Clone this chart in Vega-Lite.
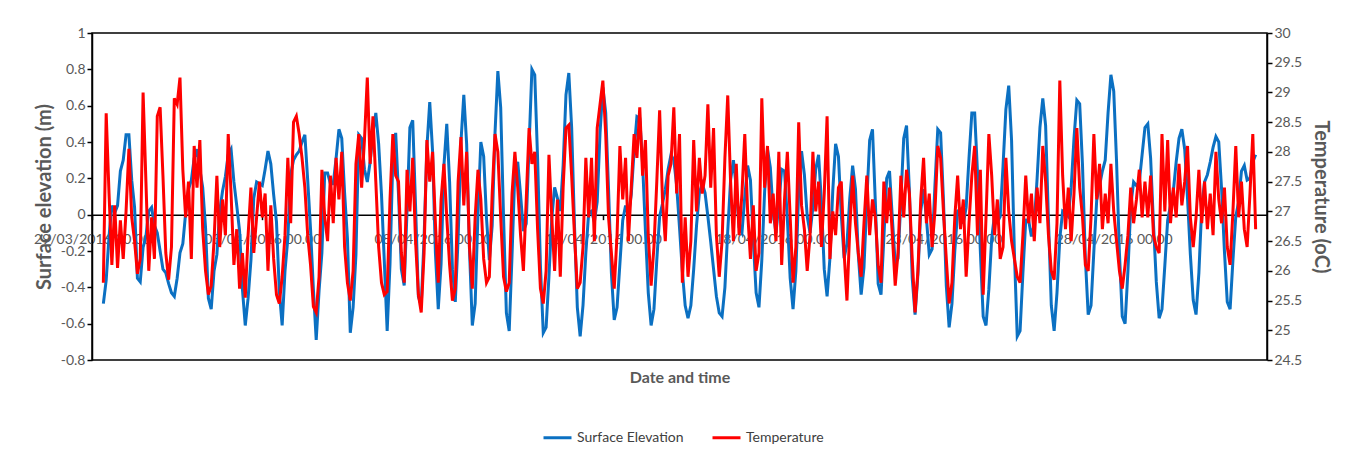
{
"$schema":"https://vega.github.io/schema/vega-lite/v6.json",
"width":1175,"height":327,
"autosize":{"type":"none"},
"padding":{"left":92,"top":33,"right":91,"bottom":110},
"background":"white",
"config":{"font":"Lato","view":{"stroke":"#000000","strokeWidth":1.5},
"axis":{"grid":false,"labelFont":"Lato","labelFontSize":14,"labelColor":"#595959","titleFont":"Lato","titleFontSize":20,"titleFontWeight":"bold","titleColor":"#595959","domainColor":"#000000","domainWidth":1.5,"tickColor":"#000000","tickWidth":1.5,"tickSize":5}},
"data":{"format":{"parse":{"t":"date:'%Y-%m-%d %H'"}},"values":[
{"t":"2016-03-29 08","e":-0.49,"T":25.8},{"t":"2016-03-29 10","e":-0.36,"T":28.65},{"t":"2016-03-29 12","e":-0.12,"T":27.3},{"t":"2016-03-29 14","e":0.05,"T":26.1},{"t":"2016-03-29 16","e":0.01,"T":27.1},{"t":"2016-03-29 18","e":0.05,"T":26.05},{"t":"2016-03-29 20","e":0.24,"T":26.85},{"t":"2016-03-29 22","e":0.3,"T":26.2},
{"t":"2016-03-30 00","e":0.44,"T":27.0},{"t":"2016-03-30 02","e":0.44,"T":28.05},{"t":"2016-03-30 04","e":0.19,"T":26.9},{"t":"2016-03-30 06","e":0.04,"T":26.5},{"t":"2016-03-30 08","e":-0.35,"T":25.95},{"t":"2016-03-30 10","e":-0.37,"T":26.2},{"t":"2016-03-30 12","e":-0.18,"T":29.0},{"t":"2016-03-30 14","e":-0.12,"T":27.5},{"t":"2016-03-30 16","e":0.02,"T":26.0},{"t":"2016-03-30 18","e":0.04,"T":26.9},{"t":"2016-03-30 20","e":-0.06,"T":26.2},{"t":"2016-03-30 22","e":-0.1,"T":28.6},
{"t":"2016-03-31 00","e":-0.2,"T":28.75},{"t":"2016-03-31 02","e":-0.3,"T":27.6},{"t":"2016-03-31 04","e":-0.32,"T":26.3},{"t":"2016-03-31 06","e":-0.38,"T":25.85},{"t":"2016-03-31 08","e":-0.43,"T":26.4},{"t":"2016-03-31 10","e":-0.45,"T":28.9},{"t":"2016-03-31 12","e":-0.35,"T":28.8},{"t":"2016-03-31 14","e":-0.21,"T":29.25},{"t":"2016-03-31 16","e":-0.16,"T":27.7},{"t":"2016-03-31 18","e":0.01,"T":26.9},{"t":"2016-03-31 20","e":0.14,"T":27.5},{"t":"2016-03-31 22","e":0.19,"T":26.2},
{"t":"2016-04-01 00","e":0.31,"T":28.1},{"t":"2016-04-01 02","e":0.36,"T":27.4},{"t":"2016-04-01 04","e":0.25,"T":28.2},{"t":"2016-04-01 06","e":0.15,"T":26.7},{"t":"2016-04-01 08","e":-0.07,"T":26.0},{"t":"2016-04-01 10","e":-0.46,"T":25.6},{"t":"2016-04-01 12","e":-0.52,"T":25.75},{"t":"2016-04-01 14","e":-0.31,"T":26.5},{"t":"2016-04-01 16","e":-0.22,"T":27.6},{"t":"2016-04-01 18","e":0.02,"T":26.4},{"t":"2016-04-01 20","e":0.13,"T":27.2},{"t":"2016-04-01 22","e":0.21,"T":26.6},
{"t":"2016-04-02 00","e":0.33,"T":28.3},{"t":"2016-04-02 02","e":0.36,"T":27.3},{"t":"2016-04-02 04","e":0.18,"T":26.1},{"t":"2016-04-02 06","e":0.05,"T":26.7},{"t":"2016-04-02 08","e":-0.09,"T":25.7},{"t":"2016-04-02 10","e":-0.41,"T":26.3},{"t":"2016-04-02 12","e":-0.61,"T":25.55},{"t":"2016-04-02 14","e":-0.46,"T":26.6},{"t":"2016-04-02 16","e":-0.25,"T":27.4},{"t":"2016-04-02 18","e":0.09,"T":26.3},{"t":"2016-04-02 20","e":0.18,"T":26.9},{"t":"2016-04-02 22","e":0.17,"T":27.5},
{"t":"2016-04-03 00","e":0.16,"T":26.9},{"t":"2016-04-03 02","e":0.25,"T":27.3},{"t":"2016-04-03 04","e":0.35,"T":26.0},{"t":"2016-04-03 06","e":0.28,"T":27.1},{"t":"2016-04-03 08","e":0.11,"T":26.2},{"t":"2016-04-03 10","e":-0.04,"T":25.6},{"t":"2016-04-03 12","e":-0.42,"T":25.45},{"t":"2016-04-03 14","e":-0.61,"T":25.9},{"t":"2016-04-03 16","e":-0.31,"T":26.6},{"t":"2016-04-03 18","e":-0.13,"T":27.9},{"t":"2016-04-03 20","e":0.22,"T":26.8},{"t":"2016-04-03 22","e":0.3,"T":28.5},
{"t":"2016-04-04 00","e":0.33,"T":28.6},{"t":"2016-04-04 02","e":0.35,"T":28.3},{"t":"2016-04-04 04","e":0.4,"T":27.9},{"t":"2016-04-04 06","e":0.44,"T":27.4},{"t":"2016-04-04 08","e":0.19,"T":26.6},{"t":"2016-04-04 10","e":-0.08,"T":26.1},{"t":"2016-04-04 12","e":-0.41,"T":25.4},{"t":"2016-04-04 14","e":-0.69,"T":25.3},{"t":"2016-04-04 16","e":-0.42,"T":25.9},{"t":"2016-04-04 18","e":-0.21,"T":27.7},{"t":"2016-04-04 20","e":0.23,"T":26.9},{"t":"2016-04-04 22","e":0.23,"T":26.5},
{"t":"2016-04-05 00","e":0.17,"T":27.6},{"t":"2016-04-05 02","e":0.17,"T":26.8},{"t":"2016-04-05 04","e":0.31,"T":27.9},{"t":"2016-04-05 06","e":0.47,"T":27.2},{"t":"2016-04-05 08","e":0.42,"T":28.0},{"t":"2016-04-05 10","e":0.12,"T":26.4},{"t":"2016-04-05 12","e":-0.13,"T":25.8},{"t":"2016-04-05 14","e":-0.65,"T":25.5},{"t":"2016-04-05 16","e":-0.51,"T":26.0},{"t":"2016-04-05 18","e":-0.22,"T":27.8},{"t":"2016-04-05 20","e":0.44,"T":28.3},{"t":"2016-04-05 22","e":0.42,"T":27.4},
{"t":"2016-04-06 00","e":0.25,"T":28.2},{"t":"2016-04-06 02","e":0.18,"T":29.25},{"t":"2016-04-06 04","e":0.29,"T":27.8},{"t":"2016-04-06 06","e":0.45,"T":28.6},{"t":"2016-04-06 08","e":0.56,"T":27.5},{"t":"2016-04-06 10","e":0.39,"T":26.4},{"t":"2016-04-06 12","e":0.11,"T":25.8},{"t":"2016-04-06 14","e":-0.26,"T":25.6},{"t":"2016-04-06 16","e":-0.64,"T":25.65},{"t":"2016-04-06 18","e":-0.27,"T":27.2},{"t":"2016-04-06 20","e":0.31,"T":28.3},{"t":"2016-04-06 22","e":0.45,"T":27.6},
{"t":"2016-04-07 00","e":0.11,"T":27.5},{"t":"2016-04-07 02","e":-0.3,"T":26.3},{"t":"2016-04-07 04","e":-0.39,"T":25.8},{"t":"2016-04-07 06","e":0.02,"T":27.7},{"t":"2016-04-07 08","e":0.48,"T":27.0},{"t":"2016-04-07 10","e":0.52,"T":27.9},{"t":"2016-04-07 12","e":0.05,"T":26.5},{"t":"2016-04-07 14","e":-0.45,"T":25.6},{"t":"2016-04-07 16","e":-0.5,"T":25.3},{"t":"2016-04-07 18","e":-0.13,"T":26.3},{"t":"2016-04-07 20","e":0.37,"T":28.2},{"t":"2016-04-07 22","e":0.62,"T":27.5},
{"t":"2016-04-08 00","e":0.35,"T":28.0},{"t":"2016-04-08 02","e":-0.21,"T":26.8},{"t":"2016-04-08 04","e":-0.52,"T":25.8},{"t":"2016-04-08 06","e":-0.27,"T":27.2},{"t":"2016-04-08 08","e":0.27,"T":27.8},{"t":"2016-04-08 10","e":0.5,"T":26.9},{"t":"2016-04-08 12","e":0.18,"T":26.1},{"t":"2016-04-08 14","e":-0.3,"T":25.5},{"t":"2016-04-08 16","e":-0.48,"T":25.7},{"t":"2016-04-08 18","e":-0.13,"T":27.5},{"t":"2016-04-08 20","e":0.4,"T":28.25},{"t":"2016-04-08 22","e":0.66,"T":27.1},
{"t":"2016-04-09 00","e":0.39,"T":28.0},{"t":"2016-04-09 02","e":-0.19,"T":26.4},{"t":"2016-04-09 04","e":-0.61,"T":25.7},{"t":"2016-04-09 06","e":-0.49,"T":26.9},{"t":"2016-04-09 08","e":0.01,"T":27.7},{"t":"2016-04-09 10","e":0.4,"T":27.2},{"t":"2016-04-09 12","e":0.32,"T":26.2},{"t":"2016-04-09 14","e":-0.02,"T":25.8},{"t":"2016-04-09 16","e":-0.25,"T":25.9},{"t":"2016-04-09 18","e":-0.06,"T":27.3},{"t":"2016-04-09 20","e":0.45,"T":28.3},{"t":"2016-04-09 22","e":0.79,"T":28.0},
{"t":"2016-04-10 00","e":0.59,"T":26.9},{"t":"2016-04-10 02","e":-0.01,"T":25.9},{"t":"2016-04-10 04","e":-0.54,"T":25.65},{"t":"2016-04-10 06","e":-0.64,"T":25.8},{"t":"2016-04-10 08","e":-0.22,"T":27.3},{"t":"2016-04-10 10","e":0.24,"T":28.0},{"t":"2016-04-10 12","e":0.29,"T":27.4},{"t":"2016-04-10 14","e":0.11,"T":26.6},{"t":"2016-04-10 16","e":-0.09,"T":26.0},{"t":"2016-04-10 18","e":-0.05,"T":27.2},{"t":"2016-04-10 20","e":0.38,"T":28.4},{"t":"2016-04-10 22","e":0.8,"T":27.8},
{"t":"2016-04-11 00","e":0.77,"T":28.0},{"t":"2016-04-11 02","e":0.31,"T":26.7},{"t":"2016-04-11 04","e":-0.28,"T":25.7},{"t":"2016-04-11 06","e":-0.65,"T":25.45},{"t":"2016-04-11 08","e":-0.62,"T":26.0},{"t":"2016-04-11 10","e":-0.34,"T":27.95},{"t":"2016-04-11 12","e":-0.02,"T":26.9},{"t":"2016-04-11 14","e":0.15,"T":26.0},{"t":"2016-04-11 16","e":0.09,"T":27.2},{"t":"2016-04-11 18","e":0.02,"T":25.9},{"t":"2016-04-11 20","e":0.27,"T":27.4},{"t":"2016-04-11 22","e":0.66,"T":28.4},
{"t":"2016-04-12 00","e":0.78,"T":28.45},{"t":"2016-04-12 02","e":0.48,"T":27.6},{"t":"2016-04-12 04","e":-0.06,"T":26.6},{"t":"2016-04-12 06","e":-0.51,"T":25.7},{"t":"2016-04-12 08","e":-0.67,"T":25.8},{"t":"2016-04-12 10","e":-0.5,"T":26.4},{"t":"2016-04-12 12","e":-0.21,"T":27.9},{"t":"2016-04-12 14","e":0.01,"T":26.9},{"t":"2016-04-12 16","e":0.02,"T":27.9},{"t":"2016-04-12 18","e":-0.04,"T":26.5},{"t":"2016-04-12 20","e":0.07,"T":28.4},{"t":"2016-04-12 22","e":0.45,"T":28.8},
{"t":"2016-04-13 00","e":0.7,"T":29.2},{"t":"2016-04-13 02","e":0.56,"T":28.3},{"t":"2016-04-13 04","e":0.14,"T":26.9},{"t":"2016-04-13 06","e":-0.32,"T":26.3},{"t":"2016-04-13 08","e":-0.58,"T":25.7},{"t":"2016-04-13 10","e":-0.51,"T":26.6},{"t":"2016-04-13 12","e":-0.27,"T":28.1},{"t":"2016-04-13 14","e":-0.03,"T":27.2},{"t":"2016-04-13 16","e":0.05,"T":27.9},{"t":"2016-04-13 18","e":0.0,"T":26.5},{"t":"2016-04-13 20","e":0.11,"T":27.4},{"t":"2016-04-13 22","e":0.35,"T":28.3},
{"t":"2016-04-14 00","e":0.54,"T":27.9},{"t":"2016-04-14 02","e":0.53,"T":28.75},{"t":"2016-04-14 04","e":0.28,"T":27.6},{"t":"2016-04-14 06","e":-0.09,"T":28.2},{"t":"2016-04-14 08","e":-0.43,"T":26.6},{"t":"2016-04-14 10","e":-0.61,"T":25.75},{"t":"2016-04-14 12","e":-0.52,"T":26.4},{"t":"2016-04-14 14","e":-0.25,"T":27.5},{"t":"2016-04-14 16","e":-0.01,"T":28.7},{"t":"2016-04-14 18","e":0.06,"T":27.2},{"t":"2016-04-14 20","e":0.14,"T":26.5},{"t":"2016-04-14 22","e":0.25,"T":27.6},
{"t":"2016-04-15 00","e":0.33,"T":27.8},{"t":"2016-04-15 02","e":0.3,"T":28.75},{"t":"2016-04-15 04","e":0.16,"T":27.3},{"t":"2016-04-15 06","e":-0.07,"T":28.3},{"t":"2016-04-15 08","e":-0.31,"T":25.8},{"t":"2016-04-15 10","e":-0.5,"T":26.9},{"t":"2016-04-15 12","e":-0.57,"T":25.9},{"t":"2016-04-15 14","e":-0.5,"T":26.5},{"t":"2016-04-15 16","e":-0.3,"T":28.2},{"t":"2016-04-15 18","e":-0.06,"T":27.0},{"t":"2016-04-15 20","e":0.12,"T":27.9},{"t":"2016-04-15 22","e":0.17,"T":27.3},
{"t":"2016-04-16 00","e":0.12,"T":27.6},{"t":"2016-04-16 02","e":-0.01,"T":28.8},{"t":"2016-04-16 04","e":-0.15,"T":27.4},{"t":"2016-04-16 06","e":-0.3,"T":28.4},{"t":"2016-04-16 08","e":-0.45,"T":26.6},{"t":"2016-04-16 10","e":-0.54,"T":25.9},{"t":"2016-04-16 12","e":-0.56,"T":26.5},{"t":"2016-04-16 14","e":-0.4,"T":27.9},{"t":"2016-04-16 16","e":-0.09,"T":28.95},{"t":"2016-04-16 18","e":0.19,"T":27.5},{"t":"2016-04-16 20","e":0.3,"T":26.5},{"t":"2016-04-16 22","e":0.15,"T":27.8},
{"t":"2016-04-17 00","e":-0.07,"T":26.6},{"t":"2016-04-17 02","e":-0.1,"T":27.3},{"t":"2016-04-17 04","e":0.1,"T":28.3},{"t":"2016-04-17 06","e":0.27,"T":27.0},{"t":"2016-04-17 08","e":0.19,"T":26.2},{"t":"2016-04-17 10","e":-0.14,"T":27.1},{"t":"2016-04-17 12","e":-0.43,"T":26.0},{"t":"2016-04-17 14","e":-0.51,"T":26.3},{"t":"2016-04-17 16","e":-0.25,"T":28.9},{"t":"2016-04-17 18","e":0.13,"T":27.4},{"t":"2016-04-17 20","e":0.36,"T":28.1},{"t":"2016-04-17 22","e":0.26,"T":26.8},
{"t":"2016-04-18 00","e":0.01,"T":27.3},{"t":"2016-04-18 02","e":-0.1,"T":26.5},{"t":"2016-04-18 04","e":0.06,"T":28.0},{"t":"2016-04-18 06","e":0.25,"T":26.1},{"t":"2016-04-18 08","e":0.24,"T":27.2},{"t":"2016-04-18 10","e":-0.02,"T":28.0},{"t":"2016-04-18 12","e":-0.35,"T":26.9},{"t":"2016-04-18 14","e":-0.52,"T":25.8},{"t":"2016-04-18 16","e":-0.31,"T":26.4},{"t":"2016-04-18 18","e":0.13,"T":28.5},{"t":"2016-04-18 20","e":0.35,"T":27.1},{"t":"2016-04-18 22","e":0.22,"T":26.7},
{"t":"2016-04-19 00","e":-0.01,"T":26.0},{"t":"2016-04-19 02","e":-0.1,"T":26.6},{"t":"2016-04-19 04","e":0.04,"T":28.0},{"t":"2016-04-19 06","e":0.25,"T":27.0},{"t":"2016-04-19 08","e":0.33,"T":27.5},{"t":"2016-04-19 10","e":0.07,"T":26.4},{"t":"2016-04-19 12","e":-0.3,"T":27.3},{"t":"2016-04-19 14","e":-0.45,"T":28.6},{"t":"2016-04-19 16","e":-0.24,"T":26.2},{"t":"2016-04-19 18","e":0.13,"T":27.0},{"t":"2016-04-19 20","e":0.39,"T":26.6},{"t":"2016-04-19 22","e":0.32,"T":27.4},
{"t":"2016-04-20 00","e":0.0,"T":27.5},{"t":"2016-04-20 02","e":-0.24,"T":26.3},{"t":"2016-04-20 04","e":-0.16,"T":25.5},{"t":"2016-04-20 06","e":0.09,"T":26.7},{"t":"2016-04-20 08","e":0.27,"T":27.6},{"t":"2016-04-20 10","e":0.14,"T":26.8},{"t":"2016-04-20 12","e":-0.22,"T":26.3},{"t":"2016-04-20 14","e":-0.44,"T":25.9},{"t":"2016-04-20 16","e":-0.29,"T":26.8},{"t":"2016-04-20 18","e":0.08,"T":27.6},{"t":"2016-04-20 20","e":0.41,"T":26.6},{"t":"2016-04-20 22","e":0.47,"T":27.2},
{"t":"2016-04-21 00","e":0.07,"T":26.9},{"t":"2016-04-21 02","e":-0.38,"T":26.1},{"t":"2016-04-21 04","e":-0.44,"T":25.8},{"t":"2016-04-21 06","e":-0.13,"T":27.5},{"t":"2016-04-21 08","e":0.2,"T":26.8},{"t":"2016-04-21 10","e":0.24,"T":27.4},{"t":"2016-04-21 12","e":-0.02,"T":26.6},{"t":"2016-04-21 14","e":-0.27,"T":25.75},{"t":"2016-04-21 16","e":-0.24,"T":26.3},{"t":"2016-04-21 18","e":0.08,"T":27.6},{"t":"2016-04-21 20","e":0.42,"T":26.9},{"t":"2016-04-21 22","e":0.49,"T":27.7},
{"t":"2016-04-22 00","e":0.13,"T":27.3},{"t":"2016-04-22 02","e":-0.35,"T":26.2},{"t":"2016-04-22 04","e":-0.55,"T":25.3},{"t":"2016-04-22 06","e":-0.33,"T":26.0},{"t":"2016-04-22 08","e":0.02,"T":27.2},{"t":"2016-04-22 10","e":0.14,"T":27.9},{"t":"2016-04-22 12","e":-0.02,"T":26.8},{"t":"2016-04-22 14","e":-0.22,"T":27.3},{"t":"2016-04-22 16","e":-0.19,"T":26.4},{"t":"2016-04-22 18","e":0.16,"T":27.0},{"t":"2016-04-22 20","e":0.47,"T":28.1},{"t":"2016-04-22 22","e":0.45,"T":27.9},
{"t":"2016-04-23 00","e":0.08,"T":27.0},{"t":"2016-04-23 02","e":-0.39,"T":26.2},{"t":"2016-04-23 04","e":-0.62,"T":25.45},{"t":"2016-04-23 06","e":-0.49,"T":25.8},{"t":"2016-04-23 08","e":-0.2,"T":26.9},{"t":"2016-04-23 10","e":0.02,"T":27.6},{"t":"2016-04-23 12","e":0.03,"T":26.7},{"t":"2016-04-23 14","e":-0.05,"T":27.2},{"t":"2016-04-23 16","e":0.04,"T":25.9},{"t":"2016-04-23 18","e":0.31,"T":26.8},{"t":"2016-04-23 20","e":0.56,"T":27.6},{"t":"2016-04-23 22","e":0.56,"T":28.1},
{"t":"2016-04-24 00","e":0.23,"T":26.6},{"t":"2016-04-24 02","e":-0.2,"T":27.7},{"t":"2016-04-24 04","e":-0.56,"T":25.6},{"t":"2016-04-24 06","e":-0.61,"T":26.9},{"t":"2016-04-24 08","e":-0.41,"T":28.3},{"t":"2016-04-24 10","e":-0.13,"T":27.6},{"t":"2016-04-24 12","e":0.0,"T":26.6},{"t":"2016-04-24 14","e":-0.04,"T":27.2},{"t":"2016-04-24 16","e":-0.01,"T":26.2},{"t":"2016-04-24 18","e":0.27,"T":26.4},{"t":"2016-04-24 20","e":0.58,"T":27.9},{"t":"2016-04-24 22","e":0.71,"T":27.0},
{"t":"2016-04-25 00","e":0.41,"T":26.5},{"t":"2016-04-25 02","e":-0.21,"T":26.2},{"t":"2016-04-25 04","e":-0.67,"T":25.9},{"t":"2016-04-25 06","e":-0.64,"T":25.8},{"t":"2016-04-25 08","e":-0.32,"T":26.6},{"t":"2016-04-25 10","e":-0.03,"T":27.6},{"t":"2016-04-25 12","e":-0.03,"T":26.8},{"t":"2016-04-25 14","e":-0.12,"T":27.3},{"t":"2016-04-25 16","e":-0.05,"T":26.5},{"t":"2016-04-25 18","e":0.2,"T":27.4},{"t":"2016-04-25 20","e":0.48,"T":26.8},{"t":"2016-04-25 22","e":0.64,"T":28.1},
{"t":"2016-04-26 00","e":0.49,"T":27.5},{"t":"2016-04-26 02","e":-0.03,"T":26.6},{"t":"2016-04-26 04","e":-0.5,"T":26.0},{"t":"2016-04-26 06","e":-0.64,"T":25.85},{"t":"2016-04-26 08","e":-0.43,"T":26.8},{"t":"2016-04-26 10","e":-0.13,"T":29.2},{"t":"2016-04-26 12","e":0.02,"T":27.6},{"t":"2016-04-26 14","e":0.01,"T":26.7},{"t":"2016-04-26 16","e":-0.01,"T":27.4},{"t":"2016-04-26 18","e":0.15,"T":26.5},{"t":"2016-04-26 20","e":0.42,"T":27.3},{"t":"2016-04-26 22","e":0.63,"T":28.4},
{"t":"2016-04-27 00","e":0.61,"T":27.4},{"t":"2016-04-27 02","e":0.27,"T":26.9},{"t":"2016-04-27 04","e":-0.24,"T":26.1},{"t":"2016-04-27 06","e":-0.55,"T":26.0},{"t":"2016-04-27 08","e":-0.5,"T":26.9},{"t":"2016-04-27 10","e":-0.2,"T":28.3},{"t":"2016-04-27 12","e":0.08,"T":27.2},{"t":"2016-04-27 14","e":0.16,"T":27.8},{"t":"2016-04-27 16","e":0.24,"T":26.7},{"t":"2016-04-27 18","e":0.3,"T":27.3},{"t":"2016-04-27 20","e":0.56,"T":26.8},{"t":"2016-04-27 22","e":0.77,"T":27.8},
{"t":"2016-04-28 00","e":0.68,"T":27.0},{"t":"2016-04-28 02","e":0.29,"T":26.5},{"t":"2016-04-28 04","e":-0.21,"T":26.0},{"t":"2016-04-28 06","e":-0.56,"T":25.7},{"t":"2016-04-28 08","e":-0.6,"T":26.1},{"t":"2016-04-28 10","e":-0.31,"T":26.6},{"t":"2016-04-28 12","e":0.05,"T":27.4},{"t":"2016-04-28 14","e":0.18,"T":26.8},{"t":"2016-04-28 16","e":0.16,"T":27.2},{"t":"2016-04-28 18","e":0.18,"T":27.7},{"t":"2016-04-28 20","e":0.33,"T":26.9},{"t":"2016-04-28 22","e":0.48,"T":27.5},
{"t":"2016-04-29 00","e":0.5,"T":26.9},{"t":"2016-04-29 02","e":0.31,"T":27.6},{"t":"2016-04-29 04","e":-0.05,"T":26.6},{"t":"2016-04-29 06","e":-0.37,"T":26.4},{"t":"2016-04-29 08","e":-0.57,"T":26.3},{"t":"2016-04-29 10","e":-0.52,"T":28.3},{"t":"2016-04-29 12","e":-0.28,"T":27.0},{"t":"2016-04-29 14","e":-0.03,"T":28.2},{"t":"2016-04-29 16","e":0.05,"T":26.8},{"t":"2016-04-29 18","e":0.13,"T":27.4},{"t":"2016-04-29 20","e":0.29,"T":26.9},{"t":"2016-04-29 22","e":0.42,"T":27.8},
{"t":"2016-04-30 00","e":0.47,"T":27.1},{"t":"2016-04-30 02","e":0.36,"T":27.5},{"t":"2016-04-30 04","e":0.09,"T":28.1},{"t":"2016-04-30 06","e":-0.22,"T":26.9},{"t":"2016-04-30 08","e":-0.47,"T":26.4},{"t":"2016-04-30 10","e":-0.55,"T":26.9},{"t":"2016-04-30 12","e":-0.32,"T":27.7},{"t":"2016-04-30 14","e":0.04,"T":26.8},{"t":"2016-04-30 16","e":0.18,"T":27.5},{"t":"2016-04-30 18","e":0.22,"T":26.7},{"t":"2016-04-30 20","e":0.29,"T":27.3},{"t":"2016-04-30 22","e":0.37,"T":26.6},
{"t":"2016-05-01 00","e":0.43,"T":28.0},{"t":"2016-05-01 02","e":0.4,"T":27.2},{"t":"2016-05-01 04","e":0.14,"T":26.8},{"t":"2016-05-01 06","e":-0.2,"T":27.4},{"t":"2016-05-01 08","e":-0.48,"T":26.4},{"t":"2016-05-01 10","e":-0.52,"T":26.1},{"t":"2016-05-01 12","e":-0.25,"T":27.0},{"t":"2016-05-01 14","e":-0.01,"T":28.1},{"t":"2016-05-01 16","e":0.07,"T":26.9},{"t":"2016-05-01 18","e":0.24,"T":27.5},{"t":"2016-05-01 20","e":0.27,"T":26.7},{"t":"2016-05-01 22","e":0.19,"T":26.4},
{"t":"2016-05-02 00","e":0.2,"T":27.3},{"t":"2016-05-02 02","e":0.29,"T":28.3},{"t":"2016-05-02 04","e":0.33,"T":26.7}
]},
"encoding":{"x":{"field":"t","type":"temporal",
"scale":{"domain":[{"year":2016,"month":"mar","date":29},{"year":2016,"month":"may","date":2,"hours":12}]},
"axis":{"values":[{"year":2016,"month":"mar","date":29},{"year":2016,"month":"apr","date":3},{"year":2016,"month":"apr","date":8},{"year":2016,"month":"apr","date":13},{"year":2016,"month":"apr","date":18},{"year":2016,"month":"apr","date":23},{"year":2016,"month":"apr","date":28}],
"format":"%d/%m/%Y %H.%M","labelFlush":false,"labelOverlap":false,"labelBound":false,"offset":-145.33,"labelPadding":13,
"title":"Date and time","titleFontSize":16,"titleY":163,"titleBaseline":"middle"}}},
"layer":[
{"mark":{"type":"line","strokeWidth":3},
"encoding":{"y":{"field":"e","type":"quantitative","scale":{"domain":[-0.8,1],"nice":false,"zero":false},
"axis":{"title":"Surface elevation (m)","values":[-0.8,-0.6,-0.4,-0.2,0,0.2,0.4,0.6,0.8,1],"labelExpr":"datum.value < 0 ? '-' + format(-datum.value, '.1~f') : format(datum.value, '.1~f')","titlePadding":6}},
"color":{"datum":"Surface Elevation","type":"nominal","scale":{"domain":["Surface Elevation","Temperature"],"range":["#0B70C2","#FF0000"]},
"legend":{"orient":"none","legendX":450,"legendY":389,"direction":"horizontal","title":null,"symbolType":"stroke","symbolSize":784,"symbolStrokeWidth":3,"labelFont":"Lato","labelFontSize":14,"labelColor":"#404040","columnPadding":22,"labelOffset":4,"padding":0}}}},
{"mark":{"type":"line","strokeWidth":3},
"encoding":{"y":{"field":"T","type":"quantitative","scale":{"domain":[24.5,30],"nice":false,"zero":false},
"axis":{"orient":"right","title":"Temperature (oC)","values":[24.5,25,25.5,26,26.5,27,27.5,28,28.5,29,29.5,30],"format":"~g","titlePadding":9}},
"color":{"datum":"Temperature","type":"nominal"}}}
],
"resolve":{"scale":{"y":"independent"}}
}
